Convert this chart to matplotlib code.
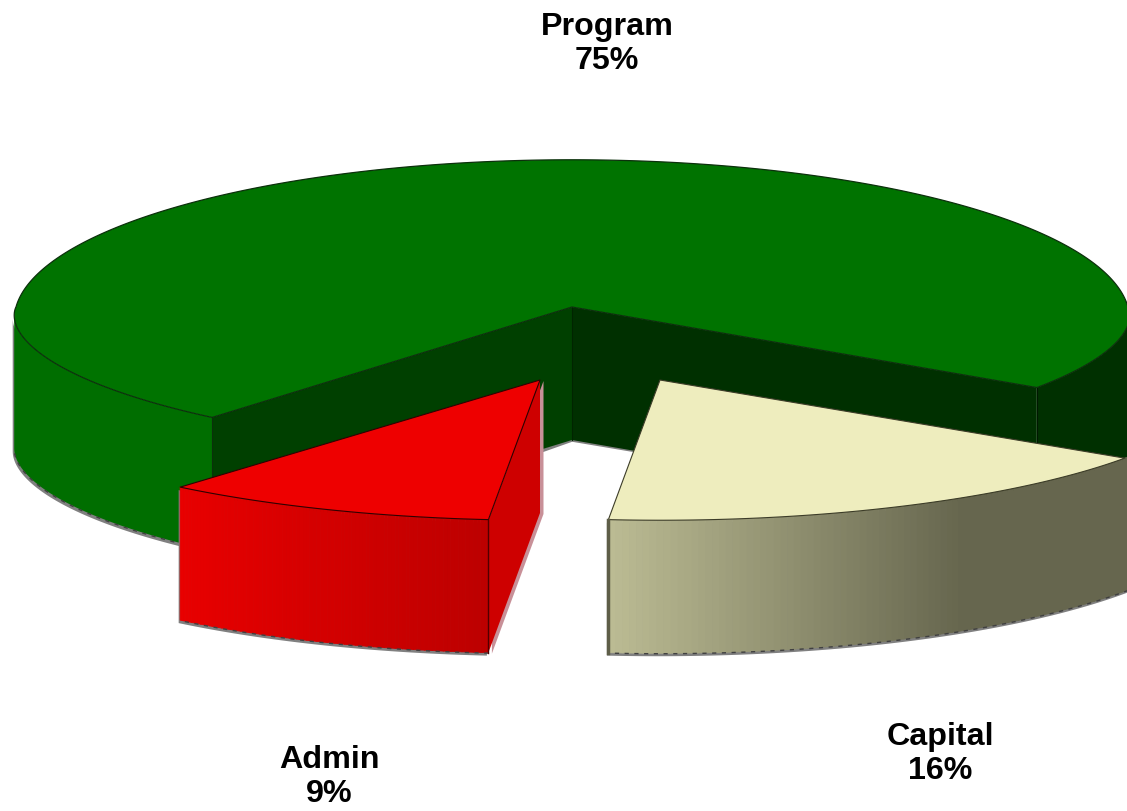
import numpy as np
import matplotlib
matplotlib.use("Agg")
import matplotlib.pyplot as plt
from matplotlib.collections import PolyCollection
from matplotlib.colors import to_rgb
from matplotlib.patches import Polygon

# Budget shares
categories = ["Program", "Capital", "Admin"]
shares = [75, 16, 9]
label_lines = ["Program\n75%", "Capital\n16%", "Admin\n9%"]

# Disc projection, in figure pixels
CENTER = np.array([572.0, 307.0])
RADIUS_X = 556.0
NEAR_Y = 133.0
FAR_Y = 159.0
TILT = 0.08
NEAR_POWER = 1.1
DEPTH = 133.0
FIRST_ANGLE = 37.3
SLICE_Y_SCALE = 0.97
OFFSETS = {"Program": (0, 0), "Capital": (88, 73), "Admin": (-32, 73)}

TOP = {"Program": "#007300", "Capital": "#EEEDBE", "Admin": "#EE0000"}
WALL_LEFT = {"Capital": "#BBBB93", "Admin": "#E80000"}
WALL_RIGHT = {"Capital": "#66664E", "Admin": "#BC0000"}
PROGRAM_WALL = "#006E00"
FACE_LEFT = "#004000"
FACE_RIGHT = "#003000"
EDGE = "#0C300C"
SHADOW = "#808080"


def project(theta, name):
    t = np.radians(np.atleast_1d(theta).astype(float))
    u, v = np.cos(t), np.sin(t)
    den = 1 - TILT * v
    near = NEAR_Y * np.abs(v) ** NEAR_POWER
    depth_term = np.where(v >= 0, near, FAR_Y * v)
    scale = 1.0 if name == "Program" else SLICE_Y_SCALE
    x = CENTER[0] + OFFSETS[name][0] + RADIUS_X * u / den
    y = CENTER[1] + OFFSETS[name][1] + scale * depth_term / den
    return np.column_stack([x, y])


def apex(name):
    return CENTER + np.array(OFFSETS[name], dtype=float)


def wall_poly(t0, t1, name, n=120):
    top = project(np.linspace(t0, t1, n), name)
    bottom = top + [0, DEPTH]
    return np.vstack([top, bottom[::-1]])


def add_poly(ax, pts, face, z, edge="none", lw=0.0, alpha=None):
    ax.add_patch(Polygon(pts, closed=True, facecolor=face, edgecolor=edge,
                         linewidth=lw, alpha=alpha, zorder=z, joinstyle="round"))


def shadow(ax, pts, z, dx=-1.5, dy=3.0, colour=SHADOW):
    add_poly(ax, np.asarray(pts) + [dx, dy], colour, z)


def dashed_rim(ax, t0, t1, name, z):
    pts = project(np.linspace(t0, t1, 120), name) + [0, DEPTH + 0.5]
    ax.plot(pts[:, 0], pts[:, 1], color="#404040", lw=1.0, ls=(0, (3, 4)), zorder=z)


def gradient_wall(ax, t0, t1, name, z, n=90):
    edges = np.linspace(t0, t1, n + 1)
    quads, colours = [], []
    left, right = np.array(to_rgb(WALL_LEFT[name])), np.array(to_rgb(WALL_RIGHT[name]))
    rims = project(edges, name)
    xmin, xmax = rims[:, 0].min(), rims[:, 0].max()
    # Shading levels off towards the right-hand end of the long wall
    span = xmax - xmin if name == "Admin" else 350.0
    for i in range(n):
        a, b = rims[i], rims[i + 1]
        quads.append([a, b, b + [0, DEPTH], a + [0, DEPTH]])
        f = np.clip((min(a[0], b[0]) - xmin) / span, 0, 1)
        colours.append(left * (1 - f) + right * f)
    ax.add_collection(PolyCollection(quads, facecolors=colours, edgecolors=colours,
                                     linewidths=0.6, zorder=z))


fig = plt.figure(figsize=(11.27, 8.11), dpi=100, facecolor="white")
ax = fig.add_axes([0, 0, 1, 1])
ax.set_xlim(0, 1127)
ax.set_ylim(811, 0)
ax.axis("off")

sweeps = np.array(shares, dtype=float) / np.sum(shares) * 360
cap_start = FIRST_ANGLE
adm_start = cap_start + sweeps[1]
prg_start = adm_start + sweeps[2]
prg_end = prg_start + sweeps[0]
side = np.degrees(np.arcsin(TILT))

# Program: outer walls, shadow, cut faces, top
left_wall = wall_poly(prg_start, 180 - side, "Program")
right_wall = wall_poly(side, FIRST_ANGLE, "Program")
shadow(ax, left_wall, 1)
add_poly(ax, left_wall, PROGRAM_WALL, 2)
add_poly(ax, right_wall, FACE_RIGHT, 2)
dashed_rim(ax, prg_start, 180 - side, "Program", 2.2)
c = apex("Program")
rim_l = project(prg_start, "Program")[0]
rim_r = project(prg_end, "Program")[0]
down = np.array([0, DEPTH])
# Grey lip of the hollow seen between the two pulled-out slices
lip = [c + down + [-130, 46], c + down, c + down + [250, 42]]
ax.plot(*np.column_stack(lip), color=SHADOW, lw=2.5, zorder=2.5)
add_poly(ax, [c, rim_l, rim_l + down, c + down], FACE_LEFT, 3)
add_poly(ax, [c, rim_r, rim_r + down, c + down], FACE_RIGHT, 3)
ax.plot(*np.column_stack([c, c + down]), color="#002400", lw=0.8, zorder=4)
ax.plot(*np.column_stack([rim_l, rim_l + down]), color=EDGE, lw=0.8, zorder=4)
ax.plot(*np.column_stack([rim_r, rim_r + down]), color="#001800", lw=0.8, zorder=4)
top = np.vstack([c, project(np.linspace(prg_start, prg_end, 400), "Program")])
add_poly(ax, top, TOP["Program"], 5, edge=EDGE, lw=0.9)

# Capital slice; its wall runs on to the edge of the figure
c = apex("Capital")
wall = wall_poly(cap_start - 1.5, adm_start, "Capital")
shadow(ax, wall, 6)
gradient_wall(ax, cap_start - 1.5, adm_start, "Capital", 7)
dashed_rim(ax, cap_start - 1.5, adm_start, "Capital", 7.5)
top = np.vstack([c, project(np.linspace(cap_start, adm_start, 120), "Capital")])
add_poly(ax, top, TOP["Capital"], 8, edge="#3C3C28", lw=0.8)
corner = project(adm_start, "Capital")[0]
ax.plot(*np.column_stack([corner, corner + down]), color="#5E5E48", lw=2.5, zorder=8)

# Admin slice, with the cut face turned towards the gap
c = apex("Admin")
corner = project(adm_start, "Admin")[0]
face = [c, corner, corner + down, c + down]
shadow(ax, face, 9, dx=3.5, dy=1.0, colour="#C89098")
wall = wall_poly(adm_start, prg_start, "Admin")
shadow(ax, wall, 9)
add_poly(ax, face, "#CE0000", 10)
gradient_wall(ax, adm_start, prg_start, "Admin", 11)
dashed_rim(ax, adm_start, prg_start, "Admin", 11.5)
top = np.vstack([c, project(np.linspace(adm_start, prg_start, 80), "Admin")])
add_poly(ax, top, TOP["Admin"], 12, edge="#300000", lw=0.8)
ax.plot(*np.column_stack([corner, corner + down]), color="#500000", lw=1.0, zorder=12)

# Labels
positions = {"Program": (607, 44), "Capital": (940, 754), "Admin": (329, 777)}
for name, text in zip(categories, label_lines):
    ax.text(*positions[name], text, ha="center", va="center", fontsize=23.2,
            fontweight="bold", family="Liberation Sans", color="black",
            linespacing=1.17, zorder=20)

fig.savefig("out.png", dpi=100, facecolor="white")
